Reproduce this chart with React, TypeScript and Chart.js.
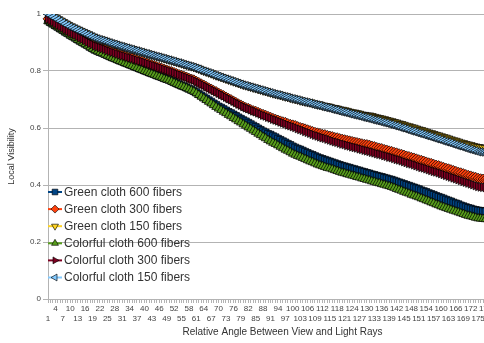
import React, { useEffect, useRef } from 'react';
import { Chart, registerables } from 'chart.js';
import { drawPoint } from 'chart.js/helpers';

Chart.register(...registerables);

const categories: string[] = Array.from({ length: 180 }, (_, i) => String(i + 1));

const seriesNames = [
  'Green cloth 600 fibers',
  'Green cloth 300 fibers',
  'Green cloth 150 fibers',
  'Colorful cloth 600 fibers',
  'Colorful cloth 300 fibers',
  'Colorful cloth 150 fibers',
];

const seriesColors = ['#004586', '#ff420e', '#ffd320', '#579d1c', '#7e0021', '#83caff'];
const seriesPointStyles = ['rect', 'rectRot', 'triangle', 'triangle', 'triangle', 'triangle'];
const seriesPointRotations = [0, 0, 180, 0, 90, 270];

const yTickValues = [0, 0.2, 0.4, 0.6, 0.8, 1];

const greenCloth600 = [
  0.977, 0.971, 0.966, 0.960, 0.955, 0.949, 0.944, 0.938, 0.933, 0.927,
  0.922, 0.917, 0.911, 0.906, 0.901, 0.896, 0.891, 0.885, 0.880, 0.875,
  0.871, 0.867, 0.864, 0.860, 0.856, 0.852, 0.848, 0.845, 0.841, 0.837,
  0.834, 0.830, 0.827, 0.823, 0.820, 0.816, 0.813, 0.809, 0.806, 0.802,
  0.799, 0.795, 0.792, 0.789, 0.785, 0.782, 0.779, 0.775, 0.772, 0.769,
  0.765, 0.761, 0.757, 0.753, 0.749, 0.746, 0.742, 0.738, 0.734, 0.730,
  0.725, 0.719, 0.714, 0.708, 0.703, 0.697, 0.692, 0.686, 0.681, 0.675,
  0.671, 0.666, 0.661, 0.656, 0.652, 0.647, 0.642, 0.637, 0.632, 0.627,
  0.623, 0.618, 0.613, 0.608, 0.603, 0.598, 0.593, 0.588, 0.584, 0.579,
  0.576, 0.571, 0.567, 0.562, 0.558, 0.553, 0.549, 0.544, 0.540, 0.535,
  0.531, 0.527, 0.524, 0.520, 0.516, 0.512, 0.508, 0.505, 0.501, 0.497,
  0.494, 0.491, 0.488, 0.485, 0.482, 0.479, 0.476, 0.473, 0.470, 0.467,
  0.465, 0.462, 0.460, 0.457, 0.455, 0.452, 0.450, 0.447, 0.445, 0.442,
  0.440, 0.437, 0.435, 0.432, 0.430, 0.428, 0.425, 0.423, 0.420, 0.418,
  0.415, 0.412, 0.409, 0.406, 0.403, 0.400, 0.397, 0.394, 0.391, 0.388,
  0.385, 0.381, 0.378, 0.375, 0.371, 0.368, 0.365, 0.361, 0.358, 0.355,
  0.352, 0.348, 0.345, 0.342, 0.338, 0.335, 0.332, 0.328, 0.325, 0.322,
  0.319, 0.317, 0.314, 0.312, 0.310, 0.309, 0.308, 0.307, 0.306, 0.305,
];

const greenCloth300 = [
  0.983, 0.978, 0.973, 0.967, 0.962, 0.957, 0.952, 0.946, 0.941, 0.936,
  0.931, 0.927, 0.922, 0.917, 0.913, 0.908, 0.903, 0.898, 0.894, 0.889,
  0.886, 0.883, 0.880, 0.877, 0.873, 0.870, 0.867, 0.864, 0.861, 0.858,
  0.855, 0.853, 0.850, 0.847, 0.845, 0.842, 0.839, 0.836, 0.834, 0.831,
  0.828, 0.825, 0.822, 0.819, 0.816, 0.813, 0.810, 0.807, 0.804, 0.801,
  0.798, 0.795, 0.791, 0.788, 0.785, 0.782, 0.779, 0.775, 0.772, 0.769,
  0.764, 0.760, 0.755, 0.751, 0.746, 0.741, 0.737, 0.732, 0.728, 0.723,
  0.718, 0.714, 0.709, 0.704, 0.700, 0.695, 0.690, 0.685, 0.681, 0.676,
  0.672, 0.669, 0.665, 0.661, 0.659, 0.655, 0.651, 0.648, 0.645, 0.641,
  0.638, 0.634, 0.631, 0.628, 0.625, 0.622, 0.620, 0.616, 0.613, 0.611,
  0.609, 0.605, 0.602, 0.600, 0.597, 0.594, 0.591, 0.588, 0.585, 0.583,
  0.581, 0.578, 0.577, 0.574, 0.572, 0.570, 0.567, 0.566, 0.563, 0.561,
  0.559, 0.557, 0.555, 0.553, 0.551, 0.549, 0.547, 0.545, 0.543, 0.542,
  0.540, 0.537, 0.535, 0.532, 0.530, 0.528, 0.525, 0.523, 0.520, 0.518,
  0.515, 0.513, 0.510, 0.508, 0.505, 0.502, 0.500, 0.497, 0.495, 0.492,
  0.489, 0.487, 0.484, 0.481, 0.478, 0.476, 0.473, 0.470, 0.468, 0.465,
  0.462, 0.459, 0.457, 0.454, 0.451, 0.448, 0.445, 0.443, 0.440, 0.437,
  0.434, 0.432, 0.429, 0.427, 0.424, 0.422, 0.421, 0.420, 0.419, 0.418,
];

const greenCloth150 = [
  0.998, 0.996, 0.992, 0.987, 0.982, 0.977, 0.972, 0.967, 0.962, 0.957,
  0.953, 0.949, 0.945, 0.941, 0.937, 0.933, 0.929, 0.925, 0.921, 0.917,
  0.914, 0.911, 0.909, 0.906, 0.903, 0.900, 0.897, 0.895, 0.892, 0.889,
  0.887, 0.884, 0.882, 0.879, 0.877, 0.874, 0.872, 0.869, 0.867, 0.864,
  0.862, 0.859, 0.857, 0.854, 0.852, 0.850, 0.847, 0.845, 0.842, 0.840,
  0.837, 0.835, 0.832, 0.830, 0.827, 0.824, 0.822, 0.819, 0.817, 0.814,
  0.811, 0.808, 0.804, 0.801, 0.798, 0.795, 0.792, 0.788, 0.785, 0.782,
  0.779, 0.776, 0.773, 0.770, 0.767, 0.764, 0.761, 0.758, 0.755, 0.752,
  0.750, 0.747, 0.745, 0.742, 0.740, 0.737, 0.735, 0.732, 0.730, 0.727,
  0.725, 0.722, 0.720, 0.718, 0.716, 0.713, 0.711, 0.709, 0.706, 0.704,
  0.702, 0.700, 0.697, 0.695, 0.693, 0.691, 0.690, 0.687, 0.685, 0.683,
  0.682, 0.679, 0.677, 0.676, 0.674, 0.671, 0.670, 0.668, 0.665, 0.664,
  0.662, 0.660, 0.657, 0.655, 0.654, 0.652, 0.650, 0.647, 0.646, 0.644,
  0.644, 0.642, 0.639, 0.637, 0.635, 0.633, 0.631, 0.628, 0.626, 0.624,
  0.621, 0.619, 0.616, 0.614, 0.611, 0.608, 0.606, 0.603, 0.601, 0.598,
  0.595, 0.593, 0.590, 0.587, 0.584, 0.582, 0.579, 0.576, 0.574, 0.571,
  0.568, 0.566, 0.563, 0.560, 0.557, 0.555, 0.552, 0.549, 0.547, 0.544,
  0.542, 0.540, 0.537, 0.535, 0.533, 0.532, 0.531, 0.530, 0.529, 0.528,
];

const colorfulCloth600 = [
  0.975, 0.969, 0.964, 0.958, 0.953, 0.947, 0.942, 0.936, 0.931, 0.925,
  0.920, 0.915, 0.909, 0.904, 0.899, 0.894, 0.889, 0.883, 0.878, 0.873,
  0.869, 0.865, 0.862, 0.858, 0.854, 0.850, 0.846, 0.843, 0.839, 0.835,
  0.832, 0.828, 0.825, 0.821, 0.818, 0.814, 0.811, 0.807, 0.804, 0.800,
  0.797, 0.793, 0.790, 0.787, 0.783, 0.780, 0.777, 0.773, 0.770, 0.767,
  0.763, 0.759, 0.755, 0.751, 0.747, 0.744, 0.740, 0.736, 0.732, 0.728,
  0.722, 0.716, 0.710, 0.704, 0.698, 0.692, 0.686, 0.680, 0.674, 0.668,
  0.663, 0.657, 0.652, 0.646, 0.641, 0.635, 0.630, 0.624, 0.619, 0.613,
  0.608, 0.602, 0.597, 0.591, 0.586, 0.580, 0.575, 0.569, 0.564, 0.558,
  0.553, 0.548, 0.544, 0.539, 0.534, 0.529, 0.524, 0.520, 0.515, 0.510,
  0.506, 0.502, 0.499, 0.495, 0.491, 0.487, 0.483, 0.480, 0.476, 0.472,
  0.469, 0.466, 0.463, 0.460, 0.458, 0.455, 0.452, 0.449, 0.446, 0.443,
  0.441, 0.438, 0.436, 0.433, 0.431, 0.428, 0.426, 0.423, 0.421, 0.418,
  0.416, 0.413, 0.411, 0.408, 0.406, 0.403, 0.401, 0.398, 0.396, 0.393,
  0.390, 0.386, 0.383, 0.380, 0.376, 0.373, 0.370, 0.366, 0.363, 0.360,
  0.357, 0.353, 0.350, 0.346, 0.343, 0.339, 0.336, 0.332, 0.329, 0.325,
  0.322, 0.319, 0.316, 0.313, 0.310, 0.307, 0.304, 0.301, 0.298, 0.295,
  0.292, 0.290, 0.288, 0.285, 0.283, 0.282, 0.281, 0.280, 0.279, 0.278,
];

const colorfulCloth300 = [
  0.982, 0.977, 0.972, 0.966, 0.961, 0.956, 0.951, 0.945, 0.940, 0.935,
  0.930, 0.926, 0.921, 0.916, 0.912, 0.907, 0.902, 0.897, 0.893, 0.888,
  0.885, 0.882, 0.879, 0.876, 0.872, 0.869, 0.866, 0.863, 0.860, 0.857,
  0.854, 0.852, 0.849, 0.846, 0.844, 0.841, 0.838, 0.835, 0.833, 0.830,
  0.827, 0.824, 0.821, 0.818, 0.815, 0.812, 0.809, 0.806, 0.803, 0.800,
  0.797, 0.794, 0.790, 0.787, 0.784, 0.781, 0.778, 0.774, 0.771, 0.768,
  0.763, 0.759, 0.754, 0.750, 0.745, 0.740, 0.736, 0.731, 0.727, 0.722,
  0.717, 0.713, 0.708, 0.703, 0.699, 0.694, 0.689, 0.684, 0.680, 0.675,
  0.671, 0.668, 0.664, 0.660, 0.657, 0.653, 0.649, 0.645, 0.642, 0.638,
  0.635, 0.631, 0.628, 0.625, 0.621, 0.618, 0.615, 0.611, 0.608, 0.605,
  0.602, 0.598, 0.595, 0.592, 0.588, 0.585, 0.582, 0.578, 0.575, 0.572,
  0.569, 0.566, 0.564, 0.561, 0.558, 0.555, 0.552, 0.550, 0.547, 0.544,
  0.542, 0.539, 0.537, 0.534, 0.532, 0.530, 0.527, 0.525, 0.522, 0.520,
  0.518, 0.515, 0.513, 0.510, 0.508, 0.506, 0.503, 0.501, 0.498, 0.496,
  0.493, 0.490, 0.488, 0.485, 0.482, 0.479, 0.476, 0.474, 0.471, 0.468,
  0.465, 0.462, 0.460, 0.457, 0.454, 0.451, 0.448, 0.446, 0.443, 0.440,
  0.437, 0.434, 0.431, 0.428, 0.425, 0.422, 0.419, 0.416, 0.413, 0.410,
  0.407, 0.404, 0.401, 0.398, 0.395, 0.393, 0.392, 0.391, 0.390, 0.390,
];

const colorfulCloth150 = [
  1.000, 0.995, 0.990, 0.985, 0.980, 0.975, 0.970, 0.965, 0.960, 0.955,
  0.951, 0.947, 0.943, 0.939, 0.935, 0.931, 0.927, 0.923, 0.919, 0.915,
  0.912, 0.909, 0.907, 0.904, 0.901, 0.898, 0.895, 0.893, 0.890, 0.887,
  0.885, 0.882, 0.880, 0.877, 0.875, 0.872, 0.870, 0.867, 0.865, 0.862,
  0.860, 0.857, 0.855, 0.852, 0.850, 0.848, 0.845, 0.843, 0.840, 0.838,
  0.835, 0.833, 0.830, 0.828, 0.825, 0.822, 0.820, 0.817, 0.815, 0.812,
  0.809, 0.806, 0.802, 0.799, 0.796, 0.793, 0.790, 0.786, 0.783, 0.780,
  0.777, 0.774, 0.771, 0.768, 0.765, 0.762, 0.759, 0.756, 0.753, 0.750,
  0.748, 0.745, 0.743, 0.740, 0.738, 0.735, 0.733, 0.730, 0.728, 0.725,
  0.723, 0.720, 0.718, 0.716, 0.714, 0.711, 0.709, 0.707, 0.704, 0.702,
  0.700, 0.698, 0.695, 0.693, 0.691, 0.689, 0.687, 0.684, 0.682, 0.680,
  0.678, 0.675, 0.673, 0.671, 0.669, 0.666, 0.664, 0.662, 0.659, 0.657,
  0.655, 0.653, 0.650, 0.648, 0.646, 0.644, 0.642, 0.639, 0.637, 0.635,
  0.633, 0.630, 0.628, 0.626, 0.624, 0.621, 0.619, 0.617, 0.614, 0.612,
  0.609, 0.607, 0.604, 0.601, 0.599, 0.596, 0.593, 0.590, 0.588, 0.585,
  0.582, 0.580, 0.577, 0.574, 0.572, 0.569, 0.566, 0.563, 0.561, 0.558,
  0.555, 0.552, 0.550, 0.547, 0.544, 0.541, 0.538, 0.536, 0.533, 0.530,
  0.527, 0.525, 0.522, 0.520, 0.517, 0.516, 0.515, 0.514, 0.513, 0.512,
];

const seriesValues = [
  greenCloth600,
  greenCloth300,
  greenCloth150,
  colorfulCloth600,
  colorfulCloth300,
  colorfulCloth150,
];

const xTitle = 'Relative Angle Between View and Light Rays';
const yTitle = 'Local Visibility';

const FONT = '"Liberation Sans", Arial, sans-serif';
const MARKER_BORDER = 'rgba(0,0,0,0.9)';
const MARKER_RADIUS = 5;

const legendPlugin = {
  id: 'insideLegend',
  afterDraw(chart: any) {
    const ctx = chart.ctx as CanvasRenderingContext2D;
    const area = chart.chartArea;
    ctx.save();
    ctx.font = `12px ${FONT}`;
    ctx.textBaseline = 'middle';
    ctx.textAlign = 'left';
    seriesNames.forEach((name, i) => {
      const y = area.top + 178 + i * 17.1;
      const x0 = area.left;
      ctx.strokeStyle = seriesColors[i];
      ctx.lineWidth = 2;
      ctx.beginPath();
      ctx.moveTo(x0, y);
      ctx.lineTo(x0 + 14, y);
      ctx.stroke();
      ctx.fillStyle = seriesColors[i];
      ctx.strokeStyle = MARKER_BORDER;
      ctx.lineWidth = 0.7;
      drawPoint(ctx, {
        pointStyle: seriesPointStyles[i] as any,
        rotation: seriesPointRotations[i],
        radius: 4,
        borderWidth: 0.7,
      }, x0 + 7, y);
      ctx.fillStyle = '#333333';
      ctx.fillText(name, x0 + 16, y + 0.5);
    });
    // x axis title
    ctx.font = `10px ${FONT}`;
    ctx.fillStyle = '#333333';
    ctx.textAlign = 'center';
    ctx.textBaseline = 'middle';
    ctx.fillText(xTitle, area.left + (area.right - area.left) * 0.53, 332);
    ctx.restore();
  },
};

export default function App() {
  const canvasRef = useRef<HTMLCanvasElement | null>(null);

  useEffect(() => {
    document.body.style.margin = '0';
    const canvas = canvasRef.current;
    if (!canvas) return;
    const chart = new Chart(canvas, {
      type: 'line',
      data: {
        labels: categories,
        datasets: seriesNames.map((name, i) => ({
          label: name,
          data: seriesValues[i],
          borderColor: seriesColors[i],
          backgroundColor: seriesColors[i],
          borderWidth: 1.5,
          pointStyle: seriesPointStyles[i] as any,
          pointRotation: seriesPointRotations[i],
          pointRadius: MARKER_RADIUS,
          pointBackgroundColor: seriesColors[i],
          pointBorderColor: MARKER_BORDER,
          pointBorderWidth: 0.8,
          tension: 0,
          fill: false,
          order: 5 - i,
        })),
      },
      options: {
        animation: false,
        responsive: false,
        events: [],
        layout: { padding: { top: 14, right: 9.5, left: 0, bottom: 0 } },
        plugins: {
          legend: { display: false },
          tooltip: { enabled: false },
          title: { display: false },
        },
        scales: {
          x: {
            type: 'category',
            offset: false,
            grid: {
              display: true,
              drawOnChartArea: false,
              drawTicks: true,
              tickLength: 4,
              color: '#b3b3b3',
            },
            border: { display: true, color: '#b3b3b3' },
            ticks: {
              autoSkip: false,
              maxRotation: 0,
              minRotation: 0,
              padding: 1,
              color: '#444444',
              font: { family: FONT, size: 8, lineHeight: 1.25 },
              callback: (_v: any, i: number) => {
                const label = categories[i];
                if (i % 6 === 3) return [label, ''];
                if (i % 6 === 0) return ['', label];
                return '';
              },
            },
            afterFit: (s: any) => {
              s.height = 44;
            },
          },
          y: {
            min: 0,
            max: 1,
            afterBuildTicks: (s: any) => {
              s.ticks = yTickValues.map((v) => ({ value: v }));
            },
            grid: {
              color: '#b3b3b3',
              tickLength: 5,
              drawTicks: true,
            },
            border: { display: true, color: '#b3b3b3' },
            ticks: {
              color: '#444444',
              padding: 2,
              font: { family: FONT, size: 8 },
              callback: (v: any) => String(Math.round(Number(v) * 10) / 10),
            },
            title: {
              display: true,
              text: yTitle,
              color: '#333333',
              font: { family: FONT, size: 9 },
              padding: { top: 6, bottom: 0 },
            },
            afterFit: (s: any) => {
              s.width = 48;
            },
          },
        },
      },
      plugins: [legendPlugin],
    });
    return () => chart.destroy();
  }, []);

  return (
    <div style={{ position: 'absolute', left: 0, top: 0, width: 484, height: 343, overflow: 'hidden', background: '#fff' }}>
      <canvas ref={canvasRef} width={500} height={343} style={{ display: 'block' }} />
    </div>
  );
}
